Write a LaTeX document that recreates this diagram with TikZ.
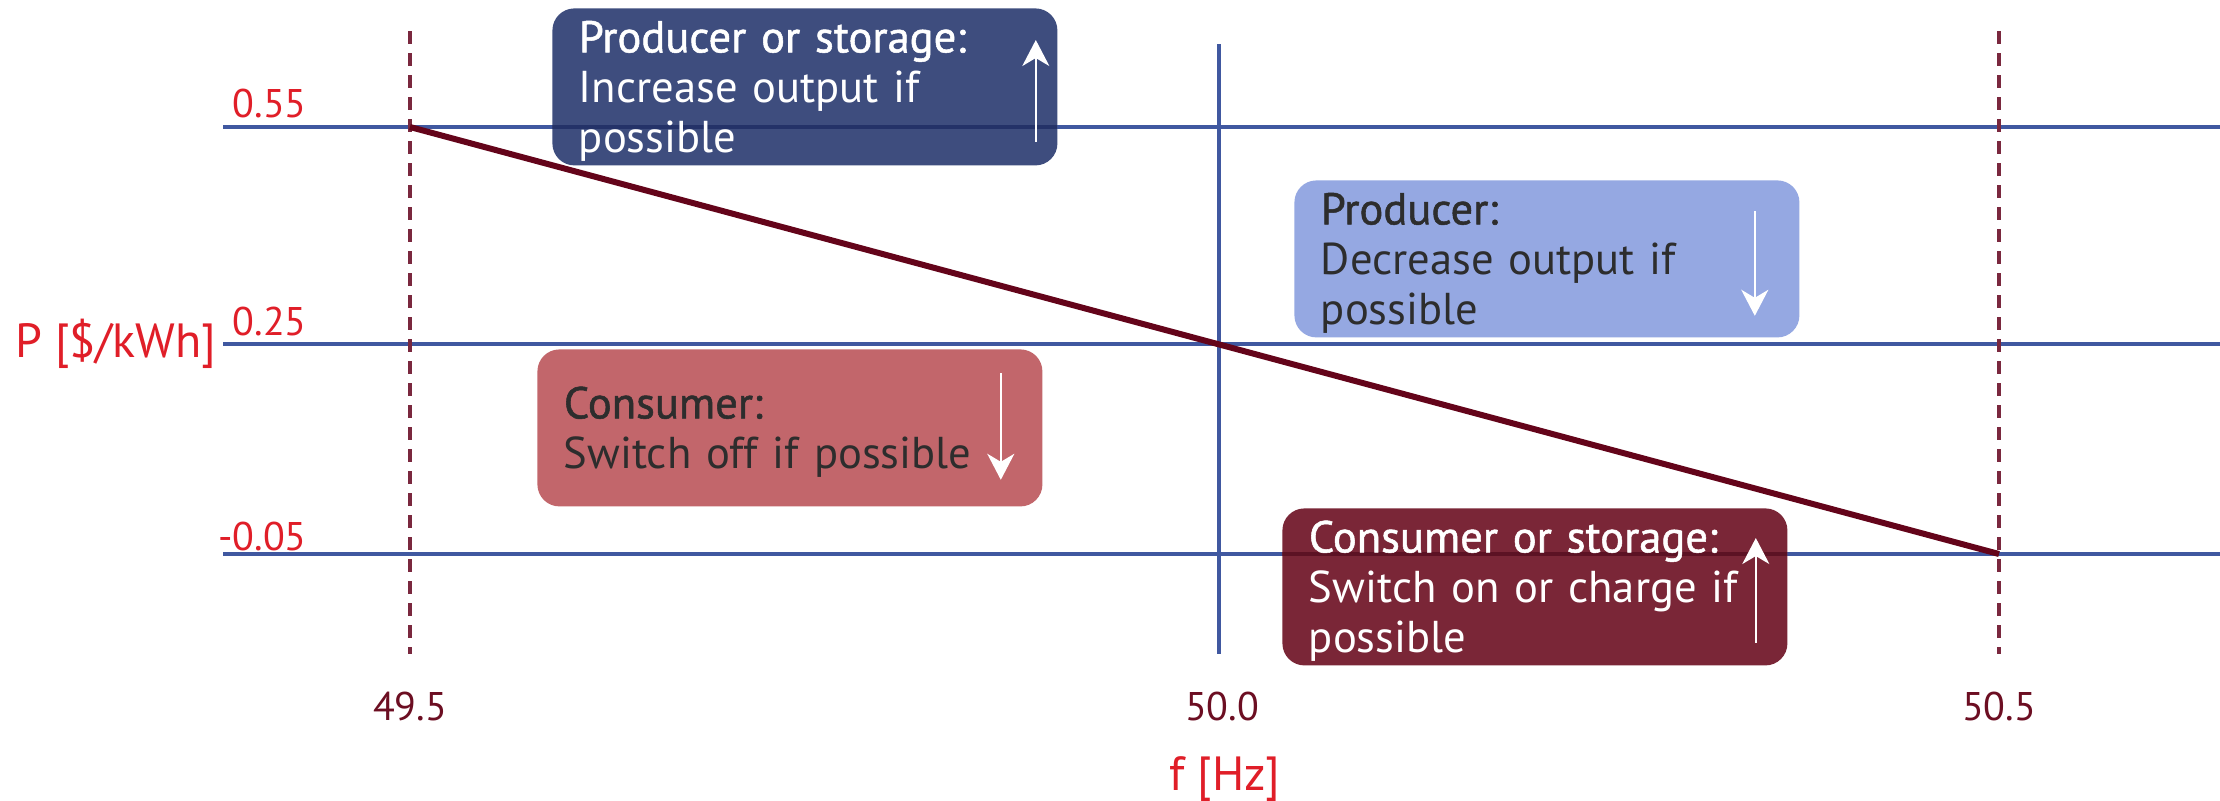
\documentclass[tikz,border=0pt]{standalone}
\usepackage{fontspec}
\setmainfont{PT Sans}
\newfontfamily\headfont{PT Sans}[FakeBold=1.2]
\usetikzlibrary{arrows.meta}

\definecolor{gridblue}{RGB}{64,88,160}
\definecolor{limitmaroon}{RGB}{122,40,62}
\definecolor{droopmaroon}{RGB}{100,4,26}
\definecolor{axisred}{RGB}{224,30,40}
\definecolor{tickmaroon}{RGB}{108,14,34}
\definecolor{raisefill}{RGB}{62,77,126}
\definecolor{lowerfill}{RGB}{149,168,226}
\definecolor{shedfill}{RGB}{194,102,107}
\definecolor{loadfill}{RGB}{122,38,55}
\definecolor{boxink}{RGB}{45,45,45}
\definecolor{raisecross}{RGB}{36,50,104}
\definecolor{loadcross}{RGB}{92,18,36}

% fixed first-line height and last-line depth, so every box sets its lines alike
\newcommand{\firstline}[1]{\rule{0pt}{20pt}{\headfont #1}}
\newcommand{\lastline}[1]{#1\rule[-4.5pt]{0pt}{4.5pt}}

\begin{document}
\begin{tikzpicture}[x=0.5pt,y=-0.5pt,
  gridline/.style={draw=gridblue,line width=1.6pt},
  limitline/.style={draw=limitmaroon,line width=2pt,dash pattern=on 6.5pt off 4.5pt},
  droop/.style={draw=droopmaroon,line width=3pt},
  actbox/.style={anchor=north west,rounded corners=11pt,minimum width=252.5pt,
    minimum height=78.5pt,text width=226pt,inner xsep=13pt,inner ysep=0pt,
    align=left,font=\fontsize{22.3}{25}\selectfont},
  boxarrow/.style={draw=white,line width=1.2pt,-{Stealth[length=13pt,width=13.5pt,inset=4pt]}},
  ticklabel/.style={text=tickmaroon,font=\fontsize{20}{24}\selectfont,inner sep=0pt},
  levellabel/.style={text=axisred,font=\fontsize{20}{24}\selectfont,inner sep=0pt},
  axistitle/.style={text=axisred,font=\fontsize{24}{28}\selectfont,inner sep=0pt},
]
% canvas
\fill[white] (0,0) rectangle (2220,800);
\useasboundingbox (0,0) rectangle (2220,800);

% price levels
\coordinate (hi55w) at (223,127);  \coordinate (hi55e) at (2220,127);
\coordinate (mid25w) at (223,344); \coordinate (mid25e) at (2220,344);
\coordinate (lo05w) at (223,554);  \coordinate (lo05e) at (2220,554);
\draw[gridline] (hi55w) -- (hi55e);
\draw[gridline] (mid25w) -- (mid25e);
\draw[gridline] (lo05w) -- (lo05e);

% frequency limits and nominal frequency
\coordinate (flow top) at (410,31);   \coordinate (flow bot) at (410,654);
\coordinate (fhigh top) at (1999,31); \coordinate (fhigh bot) at (1999,654);
\coordinate (fnom top) at (1219,44);  \coordinate (fnom bot) at (1219,654);
\draw[limitline] (flow top) -- (flow bot);
\draw[limitline] (fhigh top) -- (fhigh bot);
\draw[gridline] (fnom top) -- (fnom bot);

% droop characteristic
\coordinate (droop start) at (410,127);
\coordinate (droop end) at (1999,554);
\draw[droop] (droop start) -- (droop end);

% action boxes
\node[actbox,fill=raisefill,text=white,
  path picture={\draw[gridline,draw=raisecross]
    (path picture bounding box.west |- hi55w) -- (path picture bounding box.east |- hi55w);}]
  (raise) at (552,8) {\firstline{Producer or storage:}\\Increase output if\\\lastline{possible}};
\node[actbox,fill=lowerfill,text=boxink]
  (lower) at (1294,180) {\firstline{Producer:}\\Decrease output if\\\lastline{possible}};
\node[actbox,fill=shedfill,text=boxink]
  (shed) at (537,349) {\firstline{Consumer:}\\\lastline{Switch off if possible}};
\node[actbox,fill=loadfill,text=white,
  path picture={\draw[gridline,draw=loadcross]
    (path picture bounding box.west |- lo05w) -- (path picture bounding box.east |- lo05w);}]
  (load) at (1282,508) {\firstline{Consumer or storage:}\\Switch on or charge if\\\lastline{possible}};

\draw[boxarrow] ([shift={(-22,-24)}]raise.south east) -- ([shift={(-22,32)}]raise.north east);
\draw[boxarrow] ([shift={(-45,31)}]lower.north east) -- ([shift={(-45,-22)}]lower.south east);
\draw[boxarrow] ([shift={(-42,24)}]shed.north east) -- ([shift={(-42,-27)}]shed.south east);
\draw[boxarrow] ([shift={(-32,-23)}]load.south east) -- ([shift={(-32,30)}]load.north east);

% axis labels
\node[levellabel,anchor=base east] (lv55) at (307,117) {0.55};
\node[levellabel,anchor=base east] (lv25) at (307,335) {0.25};
\node[levellabel,anchor=base east] (lvm05) at (307,550) {-0.05};
\node[axistitle,anchor=base west] (ptitle) at (15,357) {P [\$/kWh]};
\node[ticklabel,anchor=base] (tick495) at (410,720) {49.5};
\node[ticklabel,anchor=base] (tick500) at (1222,720) {50.0};
\node[ticklabel,anchor=base] (tick505) at (1999,720) {50.5};
\node[axistitle,anchor=base] (ftitle) at (1225,790) {f [Hz]};
\end{tikzpicture}
\end{document}
